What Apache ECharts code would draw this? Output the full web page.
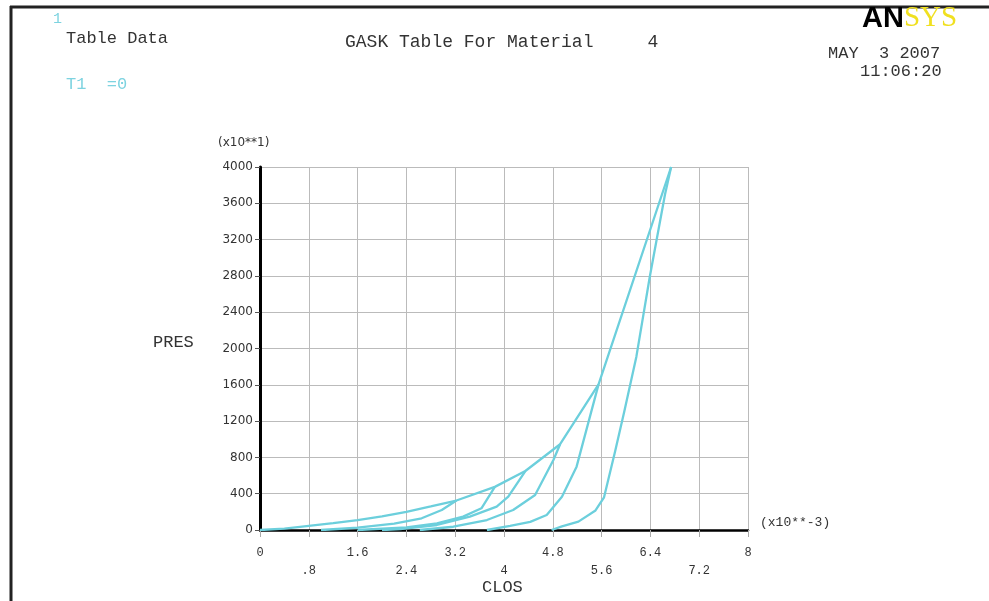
<!DOCTYPE html>
<html>
<head>
<meta charset="utf-8">
<script src="https://cdn.jsdelivr.net/npm/echarts@6/dist/echarts.min.js"></script>
<style>
  html, body { margin: 0; padding: 0; background: #fff; }
  #chart { width: 989px; height: 601px; }
</style>
</head>
<body>
<div id="chart"></div>
<script>
// loading curve (CLOS x10**-3, PRES x10**1)
var loadX = [0, 0.4, 0.8, 1.2, 1.6, 2.0, 2.4, 2.8, 3.22, 3.85, 4.35, 4.92, 5.55, 6.74];
var loadY = [0, 15, 45, 75, 110, 150, 200, 260, 325, 475, 650, 945, 1605, 4000];

// unloading curves
var unload1X = [3.22, 2.98, 2.65, 2.2, 1.6, 1.0];
var unload1Y = [325, 220, 129, 70, 25, 0];
var unload2X = [3.85, 3.63, 3.33, 2.9, 2.4, 1.6];
var unload2Y = [475, 239, 147, 74, 30, 0];
var unload3X = [4.35, 4.07, 3.88, 3.44, 2.9, 2.3, 2.0];
var unload3Y = [650, 367, 257, 147, 55, 10, 0];
var unload4X = [4.92, 4.81, 4.51, 4.15, 3.72, 3.17, 2.62];
var unload4Y = [945, 771, 386, 220, 110, 36, 0];
var unload5X = [5.55, 5.19, 4.95, 4.70, 4.43, 4.1, 3.72];
var unload5Y = [1605, 698, 367, 165, 90, 45, 0];
var unload6X = [6.74, 6.64, 6.39, 6.17, 5.97, 5.82, 5.64, 5.50, 5.22, 4.95, 4.78];
var unload6Y = [4000, 3700, 2790, 1910, 1300, 863, 360, 215, 92, 40, 0];

var curves = [
  [loadX, loadY],
  [unload1X, unload1Y],
  [unload2X, unload2Y],
  [unload3X, unload3Y],
  [unload4X, unload4Y],
  [unload5X, unload5Y],
  [unload6X, unload6Y]
];

function pairs(xs, ys) {
  var out = [];
  for (var i = 0; i < xs.length; i++) out.push([xs[i], ys[i]]);
  return out;
}

function xLabel(v) {
  var k = Math.round(v / 0.8);
  var s = String(Math.round(v * 10) / 10);
  if (s.indexOf('0.') === 0) s = s.substring(1);
  return k % 2 === 1 ? '\n' + s : s;
}

var mono = '"Liberation Mono", "DejaVu Sans Mono", monospace';
var dark = '#333';
var cyan = '#7dd3e0';

var myChart = echarts.init(document.getElementById('chart'));

myChart.setOption({
  backgroundColor: '#fff',
  animation: false,
  grid: { left: 260, top: 167, width: 488, height: 363 },
  xAxis: {
    type: 'value',
    min: 0, max: 8, interval: 0.8,
    axisLine: { show: true, lineStyle: { color: '#000', width: 2.5 } },
    axisTick: { show: true, length: 7, lineStyle: { color: '#aaa' } },
    splitLine: { show: true, lineStyle: { color: '#bbb', width: 1 } },
    axisLabel: {
      formatter: xLabel, margin: 14, lineHeight: 18,
      fontFamily: mono, fontSize: 12, color: dark
    }
  },
  yAxis: {
    type: 'value',
    min: 0, max: 4000, interval: 400,
    axisLine: { show: true, lineStyle: { color: '#000', width: 3 } },
    axisTick: { show: true, length: 5, lineStyle: { color: '#555' } },
    splitLine: { show: true, lineStyle: { color: '#bbb', width: 1 } },
    axisLabel: {
      formatter: function (v) { return String(v); },
      margin: 7, fontFamily: '"DejaVu Sans", sans-serif', fontSize: 12, color: dark
    }
  },
  series: curves.map(function (c) {
    return {
      type: 'line',
      data: pairs(c[0], c[1]),
      showSymbol: false,
      lineStyle: { color: '#6ccfdc', width: 2.3 },
      z: 3
    };
  }),
  graphic: [
    { type: 'line', shape: { x1: 10, y1: 7, x2: 989, y2: 7 }, style: { stroke: '#222', lineWidth: 3 } },
    { type: 'line', shape: { x1: 11, y1: 6, x2: 11, y2: 601 }, style: { stroke: '#222', lineWidth: 3 } },
    { type: 'text', left: 53, top: 12, style: { text: '1', font: '15px ' + mono, fill: cyan } },
    { type: 'text', left: 66, top: 30, style: { text: 'Table Data', font: '17px ' + mono, fill: dark } },
    { type: 'text', left: 66, top: 76, style: { text: 'T1  =0', font: '17px ' + mono, fill: cyan } },
    { type: 'text', left: 345, top: 33, style: { text: 'GASK Table For Material     4', font: '18px ' + mono, fill: dark } },
    { type: 'text', left: 862, top: 4, style: {
        text: '{a|AN}{b|SYS}',
        rich: {
          a: { fontFamily: '"Liberation Sans", sans-serif', fontWeight: 'bold', fontSize: 29, fill: '#000' },
          b: { fontFamily: '"Liberation Serif", serif', fontSize: 29, fill: '#f0e020' }
        }
      } },
    { type: 'text', left: 828, top: 45, style: { text: 'MAY  3 2007', font: '17px ' + mono, fill: dark } },
    { type: 'text', left: 860, top: 63, style: { text: '11:06:20', font: '17px ' + mono, fill: dark } },
    { type: 'text', left: 218, top: 137, style: { text: '(x10**1)', font: '12px "DejaVu Sans", sans-serif', fill: dark } },
    { type: 'text', left: 153, top: 334, style: { text: 'PRES', font: '17px ' + mono, fill: dark } },
    { type: 'text', left: 760, top: 516, style: { text: '(x10**-3)', font: '13px ' + mono, fill: dark } },
    { type: 'text', left: 482, top: 579, style: { text: 'CLOS', font: '17px ' + mono, fill: dark } }
  ]
});
</script>
</body>
</html>
